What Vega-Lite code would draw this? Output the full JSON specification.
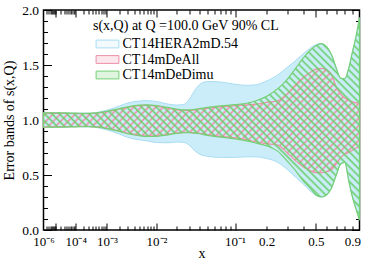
{
  "$schema": "https://vega.github.io/schema/vega-lite/v6.json",
  "width": 316,
  "height": 220,
  "autosize": {"type": "none"},
  "padding": {"left": 43.5, "top": 10, "right": 14.5, "bottom": 32},
  "background": "white",
  "config": {
    "font": "Liberation Serif",
    "view": {"stroke": "black", "strokeWidth": 1.5},
    "axis": {
      "grid": false, "domain": false,
      "labelFont": "Liberation Serif", "titleFont": "Liberation Serif",
      "labelFontSize": 13.5, "titleFontSize": 14, "labelColor": "black", "titleColor": "black",
      "titleFontWeight": "normal", "tickColor": "black", "tickWidth": 1,
      "labelFlush": false, "labelOverlap": false
    }
  },
  "datasets": {
    "bands": [
      {"set": "CT14HERA2mD.54", "x": 0.000001, "lo": 0.934, "hi": 1.066},
      {"set": "CT14HERA2mD.54", "x": 0.00001, "lo": 0.935, "hi": 1.065},
      {"set": "CT14HERA2mD.54", "x": 0.00003, "lo": 0.936, "hi": 1.064},
      {"set": "CT14HERA2mD.54", "x": 0.0001, "lo": 0.938, "hi": 1.062},
      {"set": "CT14HERA2mD.54", "x": 0.0003, "lo": 0.938, "hi": 1.062},
      {"set": "CT14HERA2mD.54", "x": 0.001, "lo": 0.91, "hi": 1.09},
      {"set": "CT14HERA2mD.54", "x": 0.002, "lo": 0.872, "hi": 1.128},
      {"set": "CT14HERA2mD.54", "x": 0.003, "lo": 0.842, "hi": 1.155},
      {"set": "CT14HERA2mD.54", "x": 0.005, "lo": 0.82, "hi": 1.172},
      {"set": "CT14HERA2mD.54", "x": 0.007, "lo": 0.81, "hi": 1.176},
      {"set": "CT14HERA2mD.54", "x": 0.01, "lo": 0.795, "hi": 1.168},
      {"set": "CT14HERA2mD.54", "x": 0.015, "lo": 0.793, "hi": 1.145},
      {"set": "CT14HERA2mD.54", "x": 0.02, "lo": 0.8, "hi": 1.136},
      {"set": "CT14HERA2mD.54", "x": 0.025, "lo": 0.797, "hi": 1.14},
      {"set": "CT14HERA2mD.54", "x": 0.03, "lo": 0.77, "hi": 1.19},
      {"set": "CT14HERA2mD.54", "x": 0.035, "lo": 0.72, "hi": 1.27},
      {"set": "CT14HERA2mD.54", "x": 0.04, "lo": 0.69, "hi": 1.32},
      {"set": "CT14HERA2mD.54", "x": 0.05, "lo": 0.67, "hi": 1.35},
      {"set": "CT14HERA2mD.54", "x": 0.07, "lo": 0.66, "hi": 1.345},
      {"set": "CT14HERA2mD.54", "x": 0.1, "lo": 0.66, "hi": 1.325},
      {"set": "CT14HERA2mD.54", "x": 0.13, "lo": 0.665, "hi": 1.315},
      {"set": "CT14HERA2mD.54", "x": 0.16, "lo": 0.665, "hi": 1.32},
      {"set": "CT14HERA2mD.54", "x": 0.2, "lo": 0.65, "hi": 1.355},
      {"set": "CT14HERA2mD.54", "x": 0.25, "lo": 0.615, "hi": 1.41},
      {"set": "CT14HERA2mD.54", "x": 0.3, "lo": 0.55, "hi": 1.48},
      {"set": "CT14HERA2mD.54", "x": 0.35, "lo": 0.48, "hi": 1.54},
      {"set": "CT14HERA2mD.54", "x": 0.4, "lo": 0.42, "hi": 1.6},
      {"set": "CT14HERA2mD.54", "x": 0.45, "lo": 0.36, "hi": 1.65},
      {"set": "CT14HERA2mD.54", "x": 0.5, "lo": 0.315, "hi": 1.685},
      {"set": "CT14HERA2mD.54", "x": 0.55, "lo": 0.3, "hi": 1.695},
      {"set": "CT14HERA2mD.54", "x": 0.6, "lo": 0.32, "hi": 1.665},
      {"set": "CT14HERA2mD.54", "x": 0.65, "lo": 0.385, "hi": 1.59},
      {"set": "CT14HERA2mD.54", "x": 0.7, "lo": 0.5, "hi": 1.47},
      {"set": "CT14HERA2mD.54", "x": 0.75, "lo": 0.6, "hi": 1.38},
      {"set": "CT14HERA2mD.54", "x": 0.8, "lo": 0.615, "hi": 1.375},
      {"set": "CT14HERA2mD.54", "x": 0.85, "lo": 0.45, "hi": 1.47},
      {"set": "CT14HERA2mD.54", "x": 0.9, "lo": 0.3, "hi": 1.62},
      {"set": "CT14HERA2mD.54", "x": 0.95, "lo": 0.19, "hi": 1.76},
      {"set": "CT14HERA2mD.54", "x": 1.0, "lo": 0.09, "hi": 1.93},

      {"set": "CT14mDeAll", "x": 0.000001, "lo": 0.938, "hi": 1.062},
      {"set": "CT14mDeAll", "x": 0.00001, "lo": 0.939, "hi": 1.061},
      {"set": "CT14mDeAll", "x": 0.00003, "lo": 0.94, "hi": 1.06},
      {"set": "CT14mDeAll", "x": 0.0001, "lo": 0.941, "hi": 1.058},
      {"set": "CT14mDeAll", "x": 0.0003, "lo": 0.942, "hi": 1.057},
      {"set": "CT14mDeAll", "x": 0.001, "lo": 0.925, "hi": 1.075},
      {"set": "CT14mDeAll", "x": 0.002, "lo": 0.9, "hi": 1.1},
      {"set": "CT14mDeAll", "x": 0.003, "lo": 0.88, "hi": 1.115},
      {"set": "CT14mDeAll", "x": 0.005, "lo": 0.862, "hi": 1.13},
      {"set": "CT14mDeAll", "x": 0.007, "lo": 0.855, "hi": 1.133},
      {"set": "CT14mDeAll", "x": 0.01, "lo": 0.857, "hi": 1.127},
      {"set": "CT14mDeAll", "x": 0.015, "lo": 0.87, "hi": 1.108},
      {"set": "CT14mDeAll", "x": 0.02, "lo": 0.882, "hi": 1.094},
      {"set": "CT14mDeAll", "x": 0.025, "lo": 0.888, "hi": 1.087},
      {"set": "CT14mDeAll", "x": 0.03, "lo": 0.887, "hi": 1.087},
      {"set": "CT14mDeAll", "x": 0.035, "lo": 0.884, "hi": 1.092},
      {"set": "CT14mDeAll", "x": 0.04, "lo": 0.879, "hi": 1.098},
      {"set": "CT14mDeAll", "x": 0.05, "lo": 0.866, "hi": 1.108},
      {"set": "CT14mDeAll", "x": 0.07, "lo": 0.852, "hi": 1.12},
      {"set": "CT14mDeAll", "x": 0.1, "lo": 0.838, "hi": 1.13},
      {"set": "CT14mDeAll", "x": 0.13, "lo": 0.822, "hi": 1.138},
      {"set": "CT14mDeAll", "x": 0.16, "lo": 0.8, "hi": 1.145},
      {"set": "CT14mDeAll", "x": 0.2, "lo": 0.785, "hi": 1.16},
      {"set": "CT14mDeAll", "x": 0.25, "lo": 0.772, "hi": 1.175},
      {"set": "CT14mDeAll", "x": 0.3, "lo": 0.7, "hi": 1.24},
      {"set": "CT14mDeAll", "x": 0.35, "lo": 0.63, "hi": 1.32},
      {"set": "CT14mDeAll", "x": 0.4, "lo": 0.575, "hi": 1.385},
      {"set": "CT14mDeAll", "x": 0.45, "lo": 0.54, "hi": 1.43},
      {"set": "CT14mDeAll", "x": 0.5, "lo": 0.522, "hi": 1.462},
      {"set": "CT14mDeAll", "x": 0.55, "lo": 0.52, "hi": 1.47},
      {"set": "CT14mDeAll", "x": 0.6, "lo": 0.53, "hi": 1.455},
      {"set": "CT14mDeAll", "x": 0.65, "lo": 0.55, "hi": 1.41},
      {"set": "CT14mDeAll", "x": 0.7, "lo": 0.6, "hi": 1.3},
      {"set": "CT14mDeAll", "x": 0.75, "lo": 0.655, "hi": 1.235},
      {"set": "CT14mDeAll", "x": 0.8, "lo": 0.69, "hi": 1.2},
      {"set": "CT14mDeAll", "x": 0.85, "lo": 0.705, "hi": 1.18},
      {"set": "CT14mDeAll", "x": 0.9, "lo": 0.725, "hi": 1.165},
      {"set": "CT14mDeAll", "x": 0.95, "lo": 0.745, "hi": 1.155},
      {"set": "CT14mDeAll", "x": 1.0, "lo": 0.76, "hi": 1.15},

      {"set": "CT14mDeDimu", "x": 0.000001, "lo": 0.934, "hi": 1.066},
      {"set": "CT14mDeDimu", "x": 0.00001, "lo": 0.935, "hi": 1.065},
      {"set": "CT14mDeDimu", "x": 0.00003, "lo": 0.936, "hi": 1.064},
      {"set": "CT14mDeDimu", "x": 0.0001, "lo": 0.938, "hi": 1.062},
      {"set": "CT14mDeDimu", "x": 0.0003, "lo": 0.94, "hi": 1.06},
      {"set": "CT14mDeDimu", "x": 0.001, "lo": 0.922, "hi": 1.078},
      {"set": "CT14mDeDimu", "x": 0.002, "lo": 0.896, "hi": 1.104},
      {"set": "CT14mDeDimu", "x": 0.003, "lo": 0.875, "hi": 1.12},
      {"set": "CT14mDeDimu", "x": 0.005, "lo": 0.857, "hi": 1.135},
      {"set": "CT14mDeDimu", "x": 0.007, "lo": 0.85, "hi": 1.138},
      {"set": "CT14mDeDimu", "x": 0.01, "lo": 0.852, "hi": 1.132},
      {"set": "CT14mDeDimu", "x": 0.015, "lo": 0.865, "hi": 1.114},
      {"set": "CT14mDeDimu", "x": 0.02, "lo": 0.878, "hi": 1.1},
      {"set": "CT14mDeDimu", "x": 0.025, "lo": 0.885, "hi": 1.092},
      {"set": "CT14mDeDimu", "x": 0.03, "lo": 0.884, "hi": 1.092},
      {"set": "CT14mDeDimu", "x": 0.035, "lo": 0.88, "hi": 1.097},
      {"set": "CT14mDeDimu", "x": 0.04, "lo": 0.875, "hi": 1.103},
      {"set": "CT14mDeDimu", "x": 0.05, "lo": 0.86, "hi": 1.115},
      {"set": "CT14mDeDimu", "x": 0.07, "lo": 0.845, "hi": 1.128},
      {"set": "CT14mDeDimu", "x": 0.1, "lo": 0.828, "hi": 1.14},
      {"set": "CT14mDeDimu", "x": 0.13, "lo": 0.81, "hi": 1.152},
      {"set": "CT14mDeDimu", "x": 0.16, "lo": 0.79, "hi": 1.175},
      {"set": "CT14mDeDimu", "x": 0.2, "lo": 0.765, "hi": 1.215},
      {"set": "CT14mDeDimu", "x": 0.25, "lo": 0.715, "hi": 1.285},
      {"set": "CT14mDeDimu", "x": 0.3, "lo": 0.625, "hi": 1.37},
      {"set": "CT14mDeDimu", "x": 0.35, "lo": 0.54, "hi": 1.47},
      {"set": "CT14mDeDimu", "x": 0.4, "lo": 0.45, "hi": 1.56},
      {"set": "CT14mDeDimu", "x": 0.45, "lo": 0.385, "hi": 1.63},
      {"set": "CT14mDeDimu", "x": 0.5, "lo": 0.32, "hi": 1.675},
      {"set": "CT14mDeDimu", "x": 0.55, "lo": 0.3, "hi": 1.695},
      {"set": "CT14mDeDimu", "x": 0.6, "lo": 0.32, "hi": 1.665},
      {"set": "CT14mDeDimu", "x": 0.65, "lo": 0.385, "hi": 1.59},
      {"set": "CT14mDeDimu", "x": 0.7, "lo": 0.5, "hi": 1.47},
      {"set": "CT14mDeDimu", "x": 0.75, "lo": 0.6, "hi": 1.38},
      {"set": "CT14mDeDimu", "x": 0.8, "lo": 0.615, "hi": 1.375},
      {"set": "CT14mDeDimu", "x": 0.85, "lo": 0.45, "hi": 1.47},
      {"set": "CT14mDeDimu", "x": 0.9, "lo": 0.3, "hi": 1.62},
      {"set": "CT14mDeDimu", "x": 0.95, "lo": 0.19, "hi": 1.76},
      {"set": "CT14mDeDimu", "x": 1.0, "lo": 0.09, "hi": 1.93}
    ]
  },
  "layer": [
    {
      "data": {"name": "bands"},
      "transform": [{"filter": "datum.set === 'CT14HERA2mD.54'"}],
      "mark": {"type": "area", "interpolate": "monotone", "fillOpacity": 1, "strokeWidth": 1},
      "encoding": {
        "x": {"field": "x", "type": "quantitative",
              "scale": {"type": "pow", "exponent": 0.2, "domain": [0.000001, 1], "nice": false, "zero": false},
              "axis": {"orient": "bottom", "values": [0.000001, 0.0001, 0.001, 0.01, 0.1, 0.2, 0.5, 0.9], "ticks": false, "labelPadding": 5, "labelFontSize": 13,
                       "labelExpr": "datum.value < 2e-6 ? '10⁻⁶' : datum.value < 2e-4 ? '10⁻⁴' : datum.value < 2e-3 ? '10⁻³' : datum.value < 0.02 ? '10⁻²' : datum.value < 0.15 ? '10⁻¹' : format(datum.value, '.1f')",
                       "title": "x", "titlePadding": -2}},
        "y": {"field": "lo", "type": "quantitative",
              "scale": {"domain": [0, 2], "nice": false, "zero": false},
              "axis": {"orient": "left", "values": [0, 0.5, 1, 1.5, 2], "tickSize": -8, "labelPadding": 13, "format": ".1f",
                       "title": "Error bands of s(x,Q)", "titlePadding": 5}},
        "y2": {"field": "hi"},
        "fill": {"field": "set", "type": "nominal",
                 "scale": {"domain": ["CT14HERA2mD.54", "CT14mDeAll", "CT14mDeDimu"], "range": ["#cbedfa", "#f4a0b2", "#7fd67f"]},
                 "legend": {"orient": "none", "legendX": 49.5, "legendY": 9, "title": "s(x,Q) at Q =100.0 GeV 90% CL",
                            "titleFont": "Liberation Serif", "titleFontSize": 14, "titleFontWeight": "normal", "titleColor": "black", "titleLimit": 400, "titlePadding": 4,
                            "labelFont": "Liberation Serif", "labelFontSize": 14, "labelColor": "black", "labelLimit": 300,
                            "symbolType": "M-1.9,-0.65H1.9V0.65H-1.9Z", "symbolSize": 144, "symbolOffset": 7.5, "labelOffset": 8, "rowPadding": 1.5, "padding": 0,
                            "encode": {"symbols": {"update": {"stroke": {"scale": "stroke", "field": "value"}, "strokeWidth": {"value": 1}, "fillOpacity": {"value": 0.25}, "opacity": {"value": 1}}}}}},
        "stroke": {"field": "set", "type": "nominal",
                   "scale": {"domain": ["CT14HERA2mD.54", "CT14mDeAll", "CT14mDeDimu"], "range": ["#a9ddf2", "#ee90a6", "#74d074"]},
                   "legend": null}
      }
    },
    {
      "data": {"name": "bands"},
      "transform": [{"filter": "datum.set === 'CT14mDeAll'"}],
      "mark": {"type": "area", "interpolate": "monotone", "strokeWidth": 1.2,
               "fill": {"gradient": "linear", "x1": 0, "y1": 0, "x2": 1.1995, "y2": 0.3967, "stops": [
                 {"offset":0.0034,"color":"#f28ca800"},{"offset":0.0088,"color":"#f28ca8"},{"offset":0.0142,"color":"#f28ca800"},
                 {"offset":0.0209,"color":"#f28ca800"},{"offset":0.0263,"color":"#f28ca8"},{"offset":0.0317,"color":"#f28ca800"},
                 {"offset":0.0385,"color":"#f28ca800"},{"offset":0.0439,"color":"#f28ca8"},{"offset":0.0493,"color":"#f28ca800"},
                 {"offset":0.0560,"color":"#f28ca800"},{"offset":0.0614,"color":"#f28ca8"},{"offset":0.0668,"color":"#f28ca800"},
                 {"offset":0.0735,"color":"#f28ca800"},{"offset":0.0789,"color":"#f28ca8"},{"offset":0.0843,"color":"#f28ca800"},
                 {"offset":0.0911,"color":"#f28ca800"},{"offset":0.0965,"color":"#f28ca8"},{"offset":0.1019,"color":"#f28ca800"},
                 {"offset":0.1086,"color":"#f28ca800"},{"offset":0.1140,"color":"#f28ca8"},{"offset":0.1194,"color":"#f28ca800"},
                 {"offset":0.1262,"color":"#f28ca800"},{"offset":0.1316,"color":"#f28ca8"},{"offset":0.1370,"color":"#f28ca800"},
                 {"offset":0.1437,"color":"#f28ca800"},{"offset":0.1491,"color":"#f28ca8"},{"offset":0.1545,"color":"#f28ca800"},
                 {"offset":0.1613,"color":"#f28ca800"},{"offset":0.1667,"color":"#f28ca8"},{"offset":0.1721,"color":"#f28ca800"},
                 {"offset":0.1788,"color":"#f28ca800"},{"offset":0.1842,"color":"#f28ca8"},{"offset":0.1896,"color":"#f28ca800"},
                 {"offset":0.1964,"color":"#f28ca800"},{"offset":0.2018,"color":"#f28ca8"},{"offset":0.2072,"color":"#f28ca800"},
                 {"offset":0.2139,"color":"#f28ca800"},{"offset":0.2193,"color":"#f28ca8"},{"offset":0.2247,"color":"#f28ca800"},
                 {"offset":0.2314,"color":"#f28ca800"},{"offset":0.2368,"color":"#f28ca8"},{"offset":0.2422,"color":"#f28ca800"},
                 {"offset":0.2490,"color":"#f28ca800"},{"offset":0.2544,"color":"#f28ca8"},{"offset":0.2598,"color":"#f28ca800"},
                 {"offset":0.2665,"color":"#f28ca800"},{"offset":0.2719,"color":"#f28ca8"},{"offset":0.2773,"color":"#f28ca800"},
                 {"offset":0.2841,"color":"#f28ca800"},{"offset":0.2895,"color":"#f28ca8"},{"offset":0.2949,"color":"#f28ca800"},
                 {"offset":0.3016,"color":"#f28ca800"},{"offset":0.3070,"color":"#f28ca8"},{"offset":0.3124,"color":"#f28ca800"},
                 {"offset":0.3192,"color":"#f28ca800"},{"offset":0.3246,"color":"#f28ca8"},{"offset":0.3300,"color":"#f28ca800"},
                 {"offset":0.3367,"color":"#f28ca800"},{"offset":0.3421,"color":"#f28ca8"},{"offset":0.3475,"color":"#f28ca800"},
                 {"offset":0.3542,"color":"#f28ca800"},{"offset":0.3596,"color":"#f28ca8"},{"offset":0.3650,"color":"#f28ca800"},
                 {"offset":0.3718,"color":"#f28ca800"},{"offset":0.3772,"color":"#f28ca8"},{"offset":0.3826,"color":"#f28ca800"},
                 {"offset":0.3893,"color":"#f28ca800"},{"offset":0.3947,"color":"#f28ca8"},{"offset":0.4001,"color":"#f28ca800"},
                 {"offset":0.4069,"color":"#f28ca800"},{"offset":0.4123,"color":"#f28ca8"},{"offset":0.4177,"color":"#f28ca800"},
                 {"offset":0.4244,"color":"#f28ca800"},{"offset":0.4298,"color":"#f28ca8"},{"offset":0.4352,"color":"#f28ca800"},
                 {"offset":0.4420,"color":"#f28ca800"},{"offset":0.4474,"color":"#f28ca8"},{"offset":0.4528,"color":"#f28ca800"},
                 {"offset":0.4595,"color":"#f28ca800"},{"offset":0.4649,"color":"#f28ca8"},{"offset":0.4703,"color":"#f28ca800"},
                 {"offset":0.4771,"color":"#f28ca800"},{"offset":0.4825,"color":"#f28ca8"},{"offset":0.4879,"color":"#f28ca800"},
                 {"offset":0.4946,"color":"#f28ca800"},{"offset":0.5000,"color":"#f28ca8"},{"offset":0.5054,"color":"#f28ca800"},
                 {"offset":0.5121,"color":"#f28ca800"},{"offset":0.5175,"color":"#f28ca8"},{"offset":0.5229,"color":"#f28ca800"},
                 {"offset":0.5297,"color":"#f28ca800"},{"offset":0.5351,"color":"#f28ca8"},{"offset":0.5405,"color":"#f28ca800"},
                 {"offset":0.5472,"color":"#f28ca800"},{"offset":0.5526,"color":"#f28ca8"},{"offset":0.5580,"color":"#f28ca800"},
                 {"offset":0.5648,"color":"#f28ca800"},{"offset":0.5702,"color":"#f28ca8"},{"offset":0.5756,"color":"#f28ca800"},
                 {"offset":0.5823,"color":"#f28ca800"},{"offset":0.5877,"color":"#f28ca8"},{"offset":0.5931,"color":"#f28ca800"},
                 {"offset":0.5999,"color":"#f28ca800"},{"offset":0.6053,"color":"#f28ca8"},{"offset":0.6107,"color":"#f28ca800"},
                 {"offset":0.6174,"color":"#f28ca800"},{"offset":0.6228,"color":"#f28ca8"},{"offset":0.6282,"color":"#f28ca800"},
                 {"offset":0.6350,"color":"#f28ca800"},{"offset":0.6404,"color":"#f28ca8"},{"offset":0.6458,"color":"#f28ca800"},
                 {"offset":0.6525,"color":"#f28ca800"},{"offset":0.6579,"color":"#f28ca8"},{"offset":0.6633,"color":"#f28ca800"},
                 {"offset":0.6700,"color":"#f28ca800"},{"offset":0.6754,"color":"#f28ca8"},{"offset":0.6808,"color":"#f28ca800"},
                 {"offset":0.6876,"color":"#f28ca800"},{"offset":0.6930,"color":"#f28ca8"},{"offset":0.6984,"color":"#f28ca800"},
                 {"offset":0.7051,"color":"#f28ca800"},{"offset":0.7105,"color":"#f28ca8"},{"offset":0.7159,"color":"#f28ca800"},
                 {"offset":0.7227,"color":"#f28ca800"},{"offset":0.7281,"color":"#f28ca8"},{"offset":0.7335,"color":"#f28ca800"},
                 {"offset":0.7402,"color":"#f28ca800"},{"offset":0.7456,"color":"#f28ca8"},{"offset":0.7510,"color":"#f28ca800"},
                 {"offset":0.7578,"color":"#f28ca800"},{"offset":0.7632,"color":"#f28ca8"},{"offset":0.7686,"color":"#f28ca800"},
                 {"offset":0.7753,"color":"#f28ca800"},{"offset":0.7807,"color":"#f28ca8"},{"offset":0.7861,"color":"#f28ca800"},
                 {"offset":0.7928,"color":"#f28ca800"},{"offset":0.7982,"color":"#f28ca8"},{"offset":0.8036,"color":"#f28ca800"},
                 {"offset":0.8104,"color":"#f28ca800"},{"offset":0.8158,"color":"#f28ca8"},{"offset":0.8212,"color":"#f28ca800"},
                 {"offset":0.8279,"color":"#f28ca800"},{"offset":0.8333,"color":"#f28ca8"},{"offset":0.8387,"color":"#f28ca800"},
                 {"offset":0.8455,"color":"#f28ca800"},{"offset":0.8509,"color":"#f28ca8"},{"offset":0.8563,"color":"#f28ca800"},
                 {"offset":0.8630,"color":"#f28ca800"},{"offset":0.8684,"color":"#f28ca8"},{"offset":0.8738,"color":"#f28ca800"},
                 {"offset":0.8806,"color":"#f28ca800"},{"offset":0.8860,"color":"#f28ca8"},{"offset":0.8914,"color":"#f28ca800"},
                 {"offset":0.8981,"color":"#f28ca800"},{"offset":0.9035,"color":"#f28ca8"},{"offset":0.9089,"color":"#f28ca800"},
                 {"offset":0.9157,"color":"#f28ca800"},{"offset":0.9211,"color":"#f28ca8"},{"offset":0.9265,"color":"#f28ca800"},
                 {"offset":0.9332,"color":"#f28ca800"},{"offset":0.9386,"color":"#f28ca8"},{"offset":0.9440,"color":"#f28ca800"},
                 {"offset":0.9507,"color":"#f28ca800"},{"offset":0.9561,"color":"#f28ca8"},{"offset":0.9615,"color":"#f28ca800"},
                 {"offset":0.9683,"color":"#f28ca800"},{"offset":0.9737,"color":"#f28ca8"},{"offset":0.9791,"color":"#f28ca800"},
                 {"offset":0.9858,"color":"#f28ca800"},{"offset":0.9912,"color":"#f28ca8"},{"offset":0.9966,"color":"#f28ca800"}
               ]}},
      "encoding": {
        "x": {"field": "x", "type": "quantitative",
              "axis": {"orient": "bottom", "values": [0.00001, 0.0001, 0.001, 0.01, 0.1, 0.5], "tickSize": -7, "labels": false, "title": null}},
        "y": {"field": "lo", "type": "quantitative",
              "axis": {"orient": "left", "values": [0.1, 0.2, 0.3, 0.4, 0.6, 0.7, 0.8, 0.9, 1.1, 1.2, 1.3, 1.4, 1.6, 1.7, 1.8, 1.9], "tickSize": -4, "labels": false, "title": null}},
        "y2": {"field": "hi"},
        "stroke": {"field": "set", "type": "nominal", "legend": null}
      }
    },
    {
      "data": {"name": "bands"},
      "transform": [{"filter": "datum.set === 'CT14mDeDimu'"}],
      "mark": {"type": "area", "interpolate": "monotone", "strokeWidth": 1.2,
               "fill": {"gradient": "linear", "x1": 0, "y1": 1, "x2": 1.1633, "y2": 0.2549, "stops": [
                 {"offset":0.0027,"color":"#6ccf6c00"},{"offset":0.0071,"color":"#6ccf6c"},{"offset":0.0115,"color":"#6ccf6c00"},
                 {"offset":0.0170,"color":"#6ccf6c00"},{"offset":0.0214,"color":"#6ccf6c"},{"offset":0.0258,"color":"#6ccf6c00"},
                 {"offset":0.0313,"color":"#6ccf6c00"},{"offset":0.0357,"color":"#6ccf6c"},{"offset":0.0401,"color":"#6ccf6c00"},
                 {"offset":0.0456,"color":"#6ccf6c00"},{"offset":0.0500,"color":"#6ccf6c"},{"offset":0.0544,"color":"#6ccf6c00"},
                 {"offset":0.0599,"color":"#6ccf6c00"},{"offset":0.0643,"color":"#6ccf6c"},{"offset":0.0687,"color":"#6ccf6c00"},
                 {"offset":0.0742,"color":"#6ccf6c00"},{"offset":0.0786,"color":"#6ccf6c"},{"offset":0.0830,"color":"#6ccf6c00"},
                 {"offset":0.0885,"color":"#6ccf6c00"},{"offset":0.0929,"color":"#6ccf6c"},{"offset":0.0973,"color":"#6ccf6c00"},
                 {"offset":0.1027,"color":"#6ccf6c00"},{"offset":0.1071,"color":"#6ccf6c"},{"offset":0.1115,"color":"#6ccf6c00"},
                 {"offset":0.1170,"color":"#6ccf6c00"},{"offset":0.1214,"color":"#6ccf6c"},{"offset":0.1258,"color":"#6ccf6c00"},
                 {"offset":0.1313,"color":"#6ccf6c00"},{"offset":0.1357,"color":"#6ccf6c"},{"offset":0.1401,"color":"#6ccf6c00"},
                 {"offset":0.1456,"color":"#6ccf6c00"},{"offset":0.1500,"color":"#6ccf6c"},{"offset":0.1544,"color":"#6ccf6c00"},
                 {"offset":0.1599,"color":"#6ccf6c00"},{"offset":0.1643,"color":"#6ccf6c"},{"offset":0.1687,"color":"#6ccf6c00"},
                 {"offset":0.1742,"color":"#6ccf6c00"},{"offset":0.1786,"color":"#6ccf6c"},{"offset":0.1830,"color":"#6ccf6c00"},
                 {"offset":0.1885,"color":"#6ccf6c00"},{"offset":0.1929,"color":"#6ccf6c"},{"offset":0.1973,"color":"#6ccf6c00"},
                 {"offset":0.2027,"color":"#6ccf6c00"},{"offset":0.2071,"color":"#6ccf6c"},{"offset":0.2115,"color":"#6ccf6c00"},
                 {"offset":0.2170,"color":"#6ccf6c00"},{"offset":0.2214,"color":"#6ccf6c"},{"offset":0.2258,"color":"#6ccf6c00"},
                 {"offset":0.2313,"color":"#6ccf6c00"},{"offset":0.2357,"color":"#6ccf6c"},{"offset":0.2401,"color":"#6ccf6c00"},
                 {"offset":0.2456,"color":"#6ccf6c00"},{"offset":0.2500,"color":"#6ccf6c"},{"offset":0.2544,"color":"#6ccf6c00"},
                 {"offset":0.2599,"color":"#6ccf6c00"},{"offset":0.2643,"color":"#6ccf6c"},{"offset":0.2687,"color":"#6ccf6c00"},
                 {"offset":0.2742,"color":"#6ccf6c00"},{"offset":0.2786,"color":"#6ccf6c"},{"offset":0.2830,"color":"#6ccf6c00"},
                 {"offset":0.2885,"color":"#6ccf6c00"},{"offset":0.2929,"color":"#6ccf6c"},{"offset":0.2973,"color":"#6ccf6c00"},
                 {"offset":0.3027,"color":"#6ccf6c00"},{"offset":0.3071,"color":"#6ccf6c"},{"offset":0.3115,"color":"#6ccf6c00"},
                 {"offset":0.3170,"color":"#6ccf6c00"},{"offset":0.3214,"color":"#6ccf6c"},{"offset":0.3258,"color":"#6ccf6c00"},
                 {"offset":0.3313,"color":"#6ccf6c00"},{"offset":0.3357,"color":"#6ccf6c"},{"offset":0.3401,"color":"#6ccf6c00"},
                 {"offset":0.3456,"color":"#6ccf6c00"},{"offset":0.3500,"color":"#6ccf6c"},{"offset":0.3544,"color":"#6ccf6c00"},
                 {"offset":0.3599,"color":"#6ccf6c00"},{"offset":0.3643,"color":"#6ccf6c"},{"offset":0.3687,"color":"#6ccf6c00"},
                 {"offset":0.3742,"color":"#6ccf6c00"},{"offset":0.3786,"color":"#6ccf6c"},{"offset":0.3830,"color":"#6ccf6c00"},
                 {"offset":0.3885,"color":"#6ccf6c00"},{"offset":0.3929,"color":"#6ccf6c"},{"offset":0.3973,"color":"#6ccf6c00"},
                 {"offset":0.4027,"color":"#6ccf6c00"},{"offset":0.4071,"color":"#6ccf6c"},{"offset":0.4115,"color":"#6ccf6c00"},
                 {"offset":0.4170,"color":"#6ccf6c00"},{"offset":0.4214,"color":"#6ccf6c"},{"offset":0.4258,"color":"#6ccf6c00"},
                 {"offset":0.4313,"color":"#6ccf6c00"},{"offset":0.4357,"color":"#6ccf6c"},{"offset":0.4401,"color":"#6ccf6c00"},
                 {"offset":0.4456,"color":"#6ccf6c00"},{"offset":0.4500,"color":"#6ccf6c"},{"offset":0.4544,"color":"#6ccf6c00"},
                 {"offset":0.4599,"color":"#6ccf6c00"},{"offset":0.4643,"color":"#6ccf6c"},{"offset":0.4687,"color":"#6ccf6c00"},
                 {"offset":0.4742,"color":"#6ccf6c00"},{"offset":0.4786,"color":"#6ccf6c"},{"offset":0.4830,"color":"#6ccf6c00"},
                 {"offset":0.4885,"color":"#6ccf6c00"},{"offset":0.4929,"color":"#6ccf6c"},{"offset":0.4973,"color":"#6ccf6c00"},
                 {"offset":0.5027,"color":"#6ccf6c00"},{"offset":0.5071,"color":"#6ccf6c"},{"offset":0.5115,"color":"#6ccf6c00"},
                 {"offset":0.5170,"color":"#6ccf6c00"},{"offset":0.5214,"color":"#6ccf6c"},{"offset":0.5258,"color":"#6ccf6c00"},
                 {"offset":0.5313,"color":"#6ccf6c00"},{"offset":0.5357,"color":"#6ccf6c"},{"offset":0.5401,"color":"#6ccf6c00"},
                 {"offset":0.5456,"color":"#6ccf6c00"},{"offset":0.5500,"color":"#6ccf6c"},{"offset":0.5544,"color":"#6ccf6c00"},
                 {"offset":0.5599,"color":"#6ccf6c00"},{"offset":0.5643,"color":"#6ccf6c"},{"offset":0.5687,"color":"#6ccf6c00"},
                 {"offset":0.5742,"color":"#6ccf6c00"},{"offset":0.5786,"color":"#6ccf6c"},{"offset":0.5830,"color":"#6ccf6c00"},
                 {"offset":0.5885,"color":"#6ccf6c00"},{"offset":0.5929,"color":"#6ccf6c"},{"offset":0.5973,"color":"#6ccf6c00"},
                 {"offset":0.6027,"color":"#6ccf6c00"},{"offset":0.6071,"color":"#6ccf6c"},{"offset":0.6115,"color":"#6ccf6c00"},
                 {"offset":0.6170,"color":"#6ccf6c00"},{"offset":0.6214,"color":"#6ccf6c"},{"offset":0.6258,"color":"#6ccf6c00"},
                 {"offset":0.6313,"color":"#6ccf6c00"},{"offset":0.6357,"color":"#6ccf6c"},{"offset":0.6401,"color":"#6ccf6c00"},
                 {"offset":0.6456,"color":"#6ccf6c00"},{"offset":0.6500,"color":"#6ccf6c"},{"offset":0.6544,"color":"#6ccf6c00"},
                 {"offset":0.6599,"color":"#6ccf6c00"},{"offset":0.6643,"color":"#6ccf6c"},{"offset":0.6687,"color":"#6ccf6c00"},
                 {"offset":0.6742,"color":"#6ccf6c00"},{"offset":0.6786,"color":"#6ccf6c"},{"offset":0.6830,"color":"#6ccf6c00"},
                 {"offset":0.6885,"color":"#6ccf6c00"},{"offset":0.6929,"color":"#6ccf6c"},{"offset":0.6973,"color":"#6ccf6c00"},
                 {"offset":0.7027,"color":"#6ccf6c00"},{"offset":0.7071,"color":"#6ccf6c"},{"offset":0.7115,"color":"#6ccf6c00"},
                 {"offset":0.7170,"color":"#6ccf6c00"},{"offset":0.7214,"color":"#6ccf6c"},{"offset":0.7258,"color":"#6ccf6c00"},
                 {"offset":0.7313,"color":"#6ccf6c00"},{"offset":0.7357,"color":"#6ccf6c"},{"offset":0.7401,"color":"#6ccf6c00"},
                 {"offset":0.7456,"color":"#6ccf6c00"},{"offset":0.7500,"color":"#6ccf6c"},{"offset":0.7544,"color":"#6ccf6c00"},
                 {"offset":0.7599,"color":"#6ccf6c00"},{"offset":0.7643,"color":"#6ccf6c"},{"offset":0.7687,"color":"#6ccf6c00"},
                 {"offset":0.7742,"color":"#6ccf6c00"},{"offset":0.7786,"color":"#6ccf6c"},{"offset":0.7830,"color":"#6ccf6c00"},
                 {"offset":0.7885,"color":"#6ccf6c00"},{"offset":0.7929,"color":"#6ccf6c"},{"offset":0.7973,"color":"#6ccf6c00"},
                 {"offset":0.8027,"color":"#6ccf6c00"},{"offset":0.8071,"color":"#6ccf6c"},{"offset":0.8115,"color":"#6ccf6c00"},
                 {"offset":0.8170,"color":"#6ccf6c00"},{"offset":0.8214,"color":"#6ccf6c"},{"offset":0.8258,"color":"#6ccf6c00"},
                 {"offset":0.8313,"color":"#6ccf6c00"},{"offset":0.8357,"color":"#6ccf6c"},{"offset":0.8401,"color":"#6ccf6c00"},
                 {"offset":0.8456,"color":"#6ccf6c00"},{"offset":0.8500,"color":"#6ccf6c"},{"offset":0.8544,"color":"#6ccf6c00"},
                 {"offset":0.8599,"color":"#6ccf6c00"},{"offset":0.8643,"color":"#6ccf6c"},{"offset":0.8687,"color":"#6ccf6c00"},
                 {"offset":0.8742,"color":"#6ccf6c00"},{"offset":0.8786,"color":"#6ccf6c"},{"offset":0.8830,"color":"#6ccf6c00"},
                 {"offset":0.8885,"color":"#6ccf6c00"},{"offset":0.8929,"color":"#6ccf6c"},{"offset":0.8973,"color":"#6ccf6c00"},
                 {"offset":0.9027,"color":"#6ccf6c00"},{"offset":0.9071,"color":"#6ccf6c"},{"offset":0.9115,"color":"#6ccf6c00"},
                 {"offset":0.9170,"color":"#6ccf6c00"},{"offset":0.9214,"color":"#6ccf6c"},{"offset":0.9258,"color":"#6ccf6c00"},
                 {"offset":0.9313,"color":"#6ccf6c00"},{"offset":0.9357,"color":"#6ccf6c"},{"offset":0.9401,"color":"#6ccf6c00"},
                 {"offset":0.9456,"color":"#6ccf6c00"},{"offset":0.9500,"color":"#6ccf6c"},{"offset":0.9544,"color":"#6ccf6c00"},
                 {"offset":0.9599,"color":"#6ccf6c00"},{"offset":0.9643,"color":"#6ccf6c"},{"offset":0.9687,"color":"#6ccf6c00"},
                 {"offset":0.9742,"color":"#6ccf6c00"},{"offset":0.9786,"color":"#6ccf6c"},{"offset":0.9830,"color":"#6ccf6c00"},
                 {"offset":0.9885,"color":"#6ccf6c00"},{"offset":0.9929,"color":"#6ccf6c"},{"offset":0.9973,"color":"#6ccf6c00"}
               ]}},
      "encoding": {
        "x": {"field": "x", "type": "quantitative",
              "axis": {"orient": "bottom", "values": [0.000002, 0.000003, 0.000004, 0.000005, 0.000006, 0.000007, 0.000008, 0.000009, 0.00002, 0.00003, 0.00004, 0.00005, 0.00006, 0.00007, 0.00008, 0.00009, 0.0002, 0.0003, 0.0004, 0.0005, 0.0006, 0.0007, 0.0008, 0.0009, 0.002, 0.003, 0.004, 0.005, 0.006, 0.007, 0.008, 0.009, 0.02, 0.03, 0.04, 0.05, 0.06, 0.07, 0.08, 0.09, 0.2, 0.3, 0.4, 0.6, 0.7, 0.8, 0.9], "tickSize": -4, "labels": false, "title": null}},
        "y": {"field": "lo", "type": "quantitative",
              "axis": {"orient": "right", "values": [0, 0.5, 1, 1.5, 2], "tickSize": -8, "labels": false, "title": null}},
        "y2": {"field": "hi"},
        "stroke": {"field": "set", "type": "nominal", "legend": null}
      }
    },
    {
      "mark": {"type": "rule", "color": "#6c9c7e", "strokeWidth": 1.5},
      "encoding": {
        "x": {"datum": 0.000001, "type": "quantitative",
              "axis": {"orient": "top", "values": [0.00001, 0.0001, 0.001, 0.01, 0.1, 0.5], "tickSize": -7, "labels": false, "title": null}},
        "x2": {"datum": 1},
        "y": {"datum": 1, "type": "quantitative",
              "axis": {"orient": "right", "values": [0.1, 0.2, 0.3, 0.4, 0.6, 0.7, 0.8, 0.9, 1.1, 1.2, 1.3, 1.4, 1.6, 1.7, 1.8, 1.9], "tickSize": -4, "labels": false, "title": null}}
      }
    },
    {
      "mark": {"type": "rule", "color": "#6c9c7e", "strokeWidth": 1.5},
      "encoding": {
        "x": {"datum": 0.000001, "type": "quantitative",
              "axis": {"orient": "top", "values": [0.000002, 0.000003, 0.000004, 0.000005, 0.000006, 0.000007, 0.000008, 0.000009, 0.00002, 0.00003, 0.00004, 0.00005, 0.00006, 0.00007, 0.00008, 0.00009, 0.0002, 0.0003, 0.0004, 0.0005, 0.0006, 0.0007, 0.0008, 0.0009, 0.002, 0.003, 0.004, 0.005, 0.006, 0.007, 0.008, 0.009, 0.02, 0.03, 0.04, 0.05, 0.06, 0.07, 0.08, 0.09, 0.2, 0.3, 0.4, 0.6, 0.7, 0.8, 0.9], "tickSize": -4, "labels": false, "title": null}},
        "x2": {"datum": 1},
        "y": {"datum": 1, "type": "quantitative", "axis": null}
      }
    }
  ],
  "resolve": {"axis": {"x": "independent", "y": "independent"}}
}
